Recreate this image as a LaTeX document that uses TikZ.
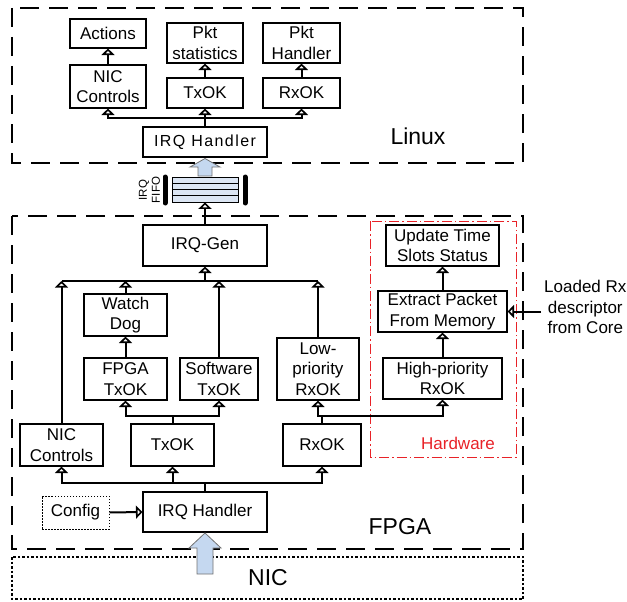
\documentclass[tikz,border=0pt]{standalone}
\usepackage{fontspec}
\setmainfont{Liberation Sans}
\newfontfamily\irqfont[LetterSpace=9]{Liberation Sans}
\usetikzlibrary{arrows.meta}
\definecolor{fatblue}{RGB}{197,216,240}
\definecolor{fifoblue}{RGB}{220,230,244}
\definecolor{hwred}{RGB}{232,34,40}
\newcommand\boxfont{\fontsize{17}{20.5}\selectfont}
\newcommand\bigfont{\fontsize{23}{27}\selectfont}
\tikzset{
  box/.style={draw, line width=1.1pt, fill=white, align=center, inner sep=0pt, font=\boxfont},
  wire/.style={line width=2pt},
  conn/.style={line width=2pt, -{Triangle[open, length=6.5pt, width=13pt, line width=1.9pt]}},
  region/.style={draw, line width=2pt, dash pattern=on 19pt off 10pt},
  fat/.style={draw=black!55, line width=0.8pt, fill=fatblue, line join=miter},
}
\begin{document}
\begin{tikzpicture}[x=1pt,y=-1pt]
\useasboundingbox (0,0) rectangle (627,602);

% ---- enclosing regions ----
\draw[region] (12,8) rectangle (523,163);
\draw[region] (12,216) rectangle (523,549);
\draw[line width=1.3pt, dash pattern=on 2.5pt off 2pt] (12,557) rectangle (523,599);
\draw[hwred, line width=1pt, dash pattern=on 10pt off 3pt on 1.5pt off 3pt] (370,221) rectangle (516,457);

\node[font=\bigfont] (linuxlbl) at (418,136) {Linux};
\node[font=\bigfont] (fpgalbl) at (400,527) {FPGA};
\node[font=\bigfont] (niclbl) at (268,578) {NIC};
\node[font=\boxfont, text=hwred] (hwlbl) at (458,443) {Hardware};

% ---- Linux side ----
\node[box, minimum width=76pt, minimum height=29pt] (actions) at (108,33.5) {Actions};
\node[box, minimum width=76pt, minimum height=40pt] (pktstat) at (205,43) {Pkt\\statistics};
\node[box, minimum width=77pt, minimum height=40pt] (pkthand) at (301.5,43) {Pkt\\Handler};
\node[box, minimum width=76pt, minimum height=43pt] (nicL) at (108,86.5) {NIC\\Controls};
\node[box, minimum width=76pt, minimum height=30pt] (txL) at (205,93) {TxOK};
\node[box, minimum width=77pt, minimum height=30pt] (rxL) at (301.5,93) {RxOK};
\node[box, minimum width=124pt, minimum height=30pt, font=\irqfont\fontsize{16}{19}\selectfont] (irqL) at (205,142) {IRQ Handler};

\draw[conn] (nicL.north) -- (actions.south);
\draw[conn] (txL.north) -- (pktstat.south);
\draw[conn] (rxL.north) -- (pkthand.south);
\coordinate (busL) at (205,118);
\draw[conn] (irqL.north) -- (txL.south);
\draw[conn] (busL) -| (nicL.south);
\draw[conn] (busL) -| (rxL.south);

% ---- IRQ FIFO ----
\node[draw, line width=0.8pt, fill=fifoblue, minimum width=66pt, minimum height=25pt, inner sep=0pt] (fifo) at (205,189.5) {};
\foreach \yy in {177,183.25,189.5,195.75}
  \draw[line width=0.8pt, fill=fifoblue] (172,\yy) rectangle (238,\yy+6.25);
\draw[line width=5pt, line cap=round] (165,177) -- (165,203);
\draw[line width=5pt, line cap=round] (245,177) -- (245,203);
\node[rotate=90, align=center, font=\fontsize{11.5}{13}\selectfont] (fifolbl) at (149.5,190) {IRQ\\FIFO};

% ---- FPGA side ----
\node[box, minimum width=124pt, minimum height=41pt] (irqgen) at (205,245.5) {IRQ-Gen};
\node[box, minimum width=83pt, minimum height=42pt] (watchdog) at (125.5,315) {Watch\\Dog};
\node[box, minimum width=83pt, minimum height=42pt] (fpgatx) at (125.5,379) {FPGA\\TxOK};
\node[box, minimum width=78pt, minimum height=42pt] (swtx) at (219,379) {Software\\TxOK};
\node[box, minimum width=82pt, minimum height=62pt] (lowrx) at (318,369) {Low-\\priority\\RxOK};
\node[box, minimum width=83pt, minimum height=42pt] (nicF) at (61.5,445) {NIC\\Controls};
\node[box, minimum width=83pt, minimum height=42pt] (txF) at (172.5,445) {TxOK};
\node[box, minimum width=78pt, minimum height=42pt] (rxF) at (322,445) {RxOK};
\node[box, minimum width=124pt, minimum height=40pt] (irqF) at (205,512) {IRQ Handler};
\node[draw, line width=1pt, dash pattern=on 1.5pt off 1.5pt, fill=white, minimum width=67pt, minimum height=33pt, inner sep=0pt, font=\boxfont] (config) at (75.5,512.5) {Config};
\node[box, minimum width=113pt, minimum height=41pt] (update) at (442.5,245.5) {Update Time\\Slots Status};
\node[box, minimum width=129pt, minimum height=41pt] (extract) at (442.5,311.5) {Extract Packet\\From Memory};
\node[box, minimum width=119pt, minimum height=41pt] (highrx) at (442.5,378.5) {High-priority\\RxOK};
\node[font=\boxfont, align=center, anchor=west, inner sep=0pt] (core) at (544,307) {Loaded Rx\\descriptor\\from Core};

% IRQ-Gen feeds the FIFO
\draw[conn] (irqgen.north) -- (fifo.south);

% sources merging into IRQ-Gen
\coordinate (busG) at (205,281);
\draw[conn] (busG) -- (irqgen.south);
\draw[wire] (nicF.north |- busG) -- (lowrx.north |- busG);
\draw[conn] (nicF.north) -- (nicF.north |- busG);
\draw[conn] (watchdog.north) -- (watchdog.north |- busG);
\draw[conn] (swtx.north) -- (swtx.north |- busG);
\draw[conn] (lowrx.north) -- (lowrx.north |- busG);
\draw[conn] (fpgatx.north) -- (watchdog.south);

% TxOK split
\draw[wire] (txF.north) -- ++(0,-7) coordinate (txJ);
\draw[conn] (txJ) -| (fpgatx.south);
\draw[conn] (txJ) -| (swtx.south);

% RxOK split
\draw[wire] (rxF.north) -- ++(0,-7) coordinate (rxJ);
\draw[conn] (rxJ) -| (lowrx.south);
\draw[conn] (rxJ) -| (highrx.south);

% hardware path
\draw[conn] (highrx.north) -- (extract.south);
\draw[conn] (extract.north) -- (update.south);
\coordinate (ext) at (541,311.5);
\draw[conn] (ext) -- (extract.east);

% FPGA IRQ handler dispatch
\coordinate (busB) at (205,483);
\draw[wire] (irqF.north) -- (busB);
\draw[conn] (busB) -| (nicF.south);
\draw[conn] (busB) -| (txF.south);
\draw[conn] (busB) -| (rxF.south);
\draw[conn] (config.east) -- (irqF.west);

% ---- wide interrupt arrows ----
\draw[fat] (198,176) -- (198,167) -- (190,167) -- (205,158.5) -- (220,167) -- (212,167) -- (212,176) -- cycle;
\draw[fat] (197,574) -- (197,548) -- (189,548) -- (205,533) -- (221,548) -- (213,548) -- (213,574) -- cycle;
\end{tikzpicture}
\end{document}
